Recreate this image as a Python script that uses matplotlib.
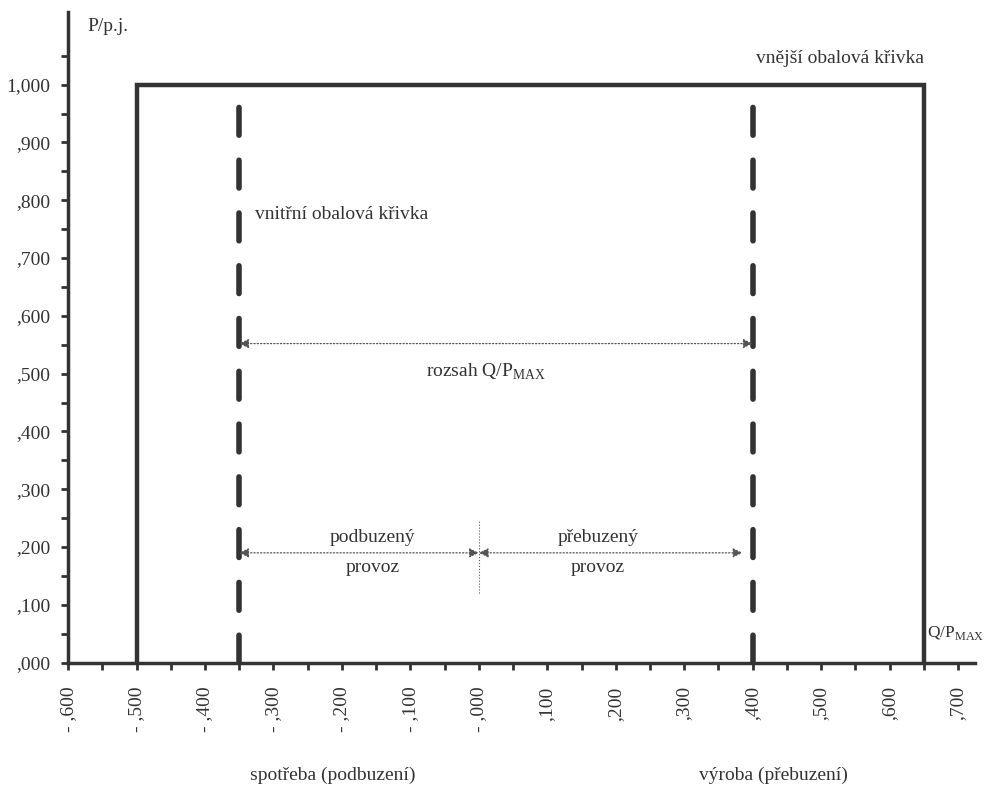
import matplotlib as mpl
mpl.use('Agg')
import matplotlib.pyplot as plt
import numpy as np

plt.rcParams['font.family'] = ['Liberation Serif', 'DejaVu Serif']
plt.rcParams['mathtext.fontset'] = 'custom'
plt.rcParams['mathtext.rm'] = 'Liberation Serif'

ink = '#333333'

# outer envelope (vnější obalová křivka)
outer_q = [-0.5, -0.5, 0.65, 0.65]
outer_p = [0.0, 1.0, 1.0, 0.0]
# inner envelope (vnitřní obalová křivka) - dashed limits
inner_q = [-0.35, 0.4]
inner_top = 0.975
# arrows
range_y = 0.552
range_q = [-0.35, 0.4]
op_y = 0.19
under_q = [-0.35, 0.0]
over_q = [0.0, 0.385]
div_p = [0.12, 0.245]

xticks = np.round(np.arange(-0.6, 0.71, 0.1), 2)
xticklabels = ['- ,600', '- ,500', '- ,400', '- ,300', '- ,200', '- ,100', '- ,000',
               ',100', ',200', ',300', ',400', ',500', ',600', ',700']
yticks = np.round(np.arange(0, 1.01, 0.1), 2)
yticklabels = [',000', ',100', ',200', ',300', ',400', ',500', ',600',
               ',700', ',800', ',900', '1,000']

fig = plt.figure(figsize=(9.87, 7.87), dpi=100)
ax = fig.add_axes([0.069, 0.158, 0.919, 0.827])

ax.plot(outer_q, outer_p, color=ink, lw=3.2, solid_joinstyle='miter', zorder=3)
for q in inner_q:
    ax.plot([q, q], [0.0, inner_top], color=ink, lw=4, linestyle=(0, (5, 4.5)),
            dash_capstyle='round', zorder=3)

arrow = dict(arrowstyle='<|-|>', color='#555555', lw=0.9, linestyle=':',
             mutation_scale=14, shrinkA=0, shrinkB=0)
ax.annotate('', xy=(range_q[1], range_y), xytext=(range_q[0], range_y), arrowprops=arrow)
ax.annotate('', xy=(under_q[1], op_y), xytext=(under_q[0], op_y), arrowprops=arrow)
ax.annotate('', xy=(over_q[1], op_y), xytext=(over_q[0], op_y), arrowprops=arrow)
ax.plot([0, 0], div_p, color='#555555', lw=0.8, linestyle=':')

fs = 14
ax.text(0.01, 0.503, r'rozsah Q/P$_{\rm MAX}$', ha='center', va='center', fontsize=fs, color=ink)
ax.text(-0.155, 0.217, 'podbuzený', ha='center', va='center', fontsize=fs, color=ink)
ax.text(-0.155, 0.165, 'provoz', ha='center', va='center', fontsize=fs, color=ink)
ax.text(0.174, 0.217, 'přebuzený', ha='center', va='center', fontsize=fs, color=ink)
ax.text(0.174, 0.165, 'provoz', ha='center', va='center', fontsize=fs, color=ink)
ax.text(-0.327, 0.775, 'vnitřní obalová křivka', ha='left', va='center', fontsize=fs, color=ink)
ax.text(0.528, 1.045, 'vnější obalová křivka', ha='center', va='center', fontsize=fs, color=ink)
ax.text(0.655, 0.052, r'Q/P$_{\rm MAX}$', ha='left', va='center', fontsize=12.5, color=ink)
ax.text(-0.572, 1.1, 'P/p.j.', ha='left', va='center', fontsize=fs, color=ink)
ax.text(-0.213, -0.195, 'spotřeba (podbuzení)', ha='center', va='center', fontsize=fs, color=ink)
ax.text(0.43, -0.195, 'výroba (přebuzení)', ha='center', va='center', fontsize=fs, color=ink)

ax.set_xlim(-0.6, 0.725)
ax.set_ylim(0, 1.126)
ax.set_xticks(xticks)
ax.set_xticklabels(xticklabels, rotation=90, fontsize=fs, color=ink)
ax.set_xticks(np.round(np.arange(-0.55, 0.72, 0.1), 2), minor=True)
ax.set_yticks(yticks)
ax.set_yticklabels(yticklabels, fontsize=fs, color=ink)
ax.set_yticks(np.round(np.arange(0.05, 1.12, 0.1), 2), minor=True)
ax.tick_params(which='both', direction='out', length=5, width=2, color=ink)
ax.tick_params(axis='x', which='major', pad=12)
ax.tick_params(axis='y', which='major', pad=8)

for s in ['top', 'right']:
    ax.spines[s].set_visible(False)
for s in ['left', 'bottom']:
    ax.spines[s].set_linewidth(2.5)
    ax.spines[s].set_color(ink)

plt.savefig('out.png', dpi=100)
